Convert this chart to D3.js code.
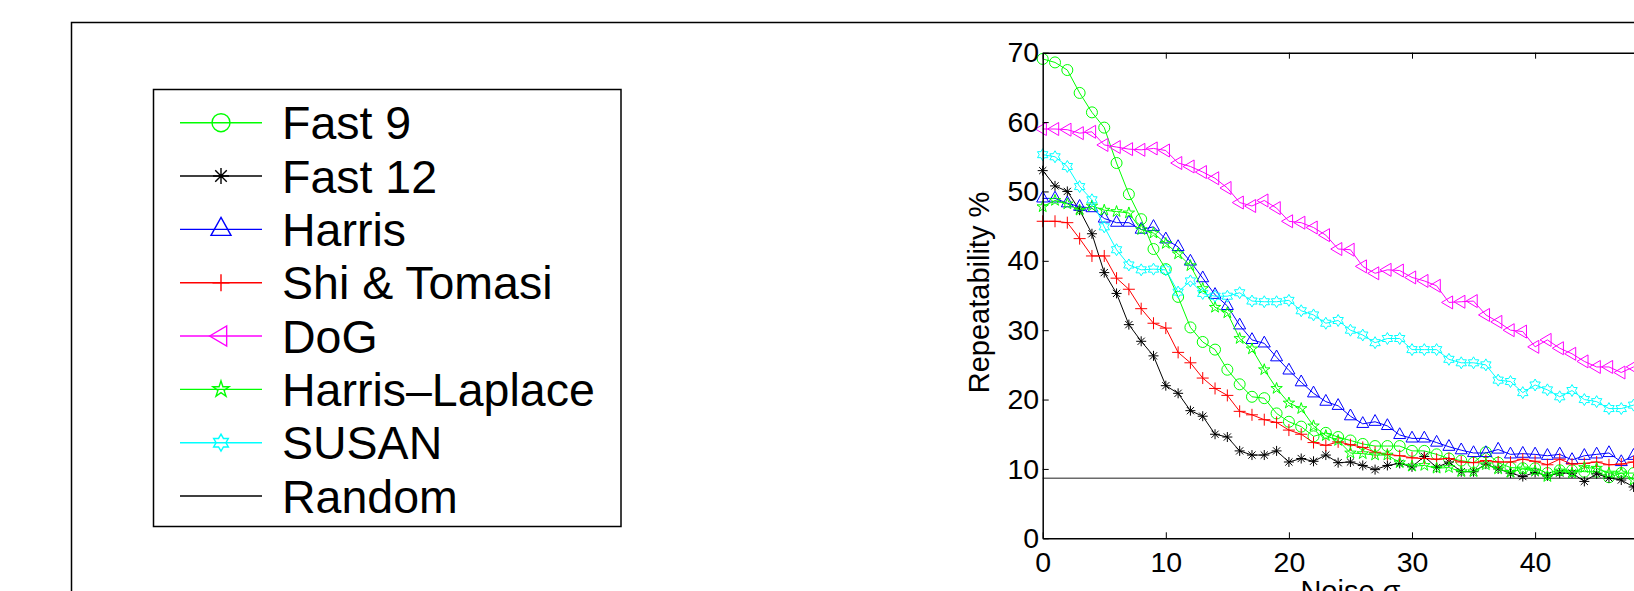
<!DOCTYPE html>
<html><head><meta charset="utf-8">
<script src="https://cdn.jsdelivr.net/npm/d3@7"></script>
<style>body{margin:0;background:#fff}svg{display:block}</style>
</head><body>
<svg id="c" width="1634" height="591"></svg>
<script>
const sigma = [0,1,2,3,4,5,6,7,8,9,10,11,12,13,14,15,16,17,18,19,20,21,22,23,24,25,26,27,28,29,30,31,32,33,34,35,36,37,38,39,40,41,42,43,44,45,46,47,48,49,50];
const fast9 = [69.1,68.6,67.5,64.2,61.4,59.2,54.1,49.6,46.0,41.7,38.8,34.8,30.4,28.3,27.2,24.3,22.2,20.4,20.2,18.0,16.8,16.1,14.7,15.2,14.6,14.1,13.6,13.3,13.3,13.3,12.6,12.6,12.1,11.5,11.2,10.9,12.4,10.9,10.2,10.1,10.1,9.4,9.8,9.8,9.6,9.6,8.8,9.4,9.4,9.5,9.5];
const fast12 = [53.0,50.8,50.0,47.3,43.9,38.3,35.3,30.8,28.4,26.3,22.0,20.9,18.4,17.6,15.0,14.6,12.6,12.0,12.0,12.6,11.0,11.5,11.1,12.0,10.9,11.0,10.5,9.9,10.5,10.8,10.3,11.8,10.2,11.0,9.6,9.6,10.7,10.0,9.4,8.9,9.5,9.0,9.4,9.4,8.2,9.3,8.7,8.4,7.4,7.0,6.8];
const harris = [49.0,49.0,48.3,47.8,47.6,46.1,45.5,45.5,44.5,44.9,43.1,42.0,39.9,37.5,35.1,33.5,30.7,28.6,28.1,26.1,24.2,22.5,20.9,19.7,19.1,17.6,16.5,16.8,16.2,14.9,14.4,14.4,13.8,13.2,12.7,12.3,12.3,12.8,12.1,12.2,12.1,11.9,12.1,11.3,11.9,12.1,12.3,11.0,11.9,11.8,11.6];
const shiTomasi = [45.7,45.7,45.5,43.2,40.7,40.7,37.5,35.9,33.1,31.0,30.3,26.8,25.3,23.1,21.6,20.6,18.3,17.8,17.1,16.7,15.6,15.0,13.8,13.4,13.9,13.5,13.1,12.4,12.1,11.9,11.6,11.5,11.4,11.5,11.0,10.9,11.2,11.0,11.0,11.4,11.1,10.6,11.4,10.7,10.8,11.0,10.6,10.7,11.0,10.9,10.8];
const dog = [59.0,59.0,58.9,58.4,58.6,56.7,56.4,56.1,56.0,56.2,55.9,54.1,53.6,52.8,51.9,50.5,48.4,47.9,48.7,47.6,45.7,45.5,44.8,43.7,41.7,41.6,39.2,38.2,38.7,38.6,37.6,37.1,36.4,34.0,34.1,34.2,32.2,31.2,30.0,29.8,27.6,28.6,27.4,26.6,25.5,24.7,24.7,23.9,24.7,24.0,23.5];
const harrisLaplace = [47.8,48.7,48.2,47.3,47.9,47.3,47.1,46.9,44.5,44.0,42.5,41.0,39.3,36.0,33.3,32.5,28.8,27.3,24.3,21.6,19.5,18.7,16.2,14.8,14.1,12.3,12.2,12.0,12.0,10.9,10.4,10.5,10.1,10.2,9.6,9.6,10.6,10.0,9.5,10.0,9.7,8.9,9.7,9.4,10.2,10.1,9.4,9.4,8.4,8.6,8.5];
const susan = [55.3,55.0,53.6,50.7,48.8,44.9,41.6,39.4,38.7,38.8,38.7,35.5,37.1,35.3,34.9,34.9,35.4,34.2,34.1,34.1,34.3,32.8,32.2,31.0,31.4,30.0,29.3,28.2,28.8,28.8,27.2,27.2,27.2,25.8,25.3,25.3,25.0,22.8,22.6,21.0,22.1,21.4,20.4,21.3,20.0,19.7,18.7,18.7,19.2,19.0,18.5];
const randomLevel = 8.65;
const xTicks = [0,10,20,30,40,50];
const xTickLabels = ["0","10","20","30","40",""];
const yTicks = [0,10,20,30,40,50,60,70];
const seriesNames = ["Fast 9","Fast 12","Harris","Shi & Tomasi","DoG","Harris\u2013Laplace","SUSAN","Random"];
const seriesColors = ["#00ff00","#000000","#0000ff","#ff0000","#ff00ff","#00ff00","#00ffff","#000000"];
const seriesMarkers = ["o","*","^","+","<","p","h",null];
const seriesValues = [fast9,fast12,harris,shiTomasi,dog,harrisLaplace,susan,null];

const FONT = "'Liberation Sans', Arial, Helvetica, sans-serif";
const svg = d3.select("#c");

function markerPath(type, s) {
  const h = s/2;
  if (type === "o") return `M${-h},0A${h},${h} 0 1,0 ${h},0A${h},${h} 0 1,0 ${-h},0Z`;
  if (type === "*") { const d = h*0.72; return `M${-h},0L${h},0M0,${-h}L0,${h}M${-d},${-d}L${d},${d}M${-d},${d}L${d},${-d}`; }
  if (type === "+") return `M${-h},0L${h},0M0,${-h}L0,${h}`;
  if (type === "^") { const W = s, H = s*0.9; return `M0,${-2*H/3}L${W/2},${H/3}L${-W/2},${H/3}Z`; }
  if (type === "<") { const W = s*0.85, H = s; return `M${-2*W/3},0L${W/3},${-H/2}L${W/3},${H/2}Z`; }
  if (type === "p" || type === "h") {
    const n = type === "p" ? 5 : 6;
    const R = h, r = type === "p" ? R*0.382 : R/Math.sqrt(3);
    const pts = [];
    for (let i = 0; i < 2*n; i++) {
      const a = -Math.PI/2 + i*Math.PI/n;
      const rr = i % 2 === 0 ? R : r;
      pts.push([rr*Math.cos(a), rr*Math.sin(a)]);
    }
    return "M" + pts.map(p => p[0].toFixed(2)+","+p[1].toFixed(2)).join("L") + "Z";
  }
  return "";
}
const plotSize = {o:11,"*":10,"^":12,"+":12,"<":13,p:12,h:12};
const legSize = {o:18,"*":16,"^":20,"+":17,"<":20,p:17,h:17};

// outer figure frame
svg.append("rect").attr("x",71.5).attr("y",22.5).attr("width",2000).attr("height",1000)
  .attr("fill","none").attr("stroke","#000").attr("stroke-width",1.5);

// legend
const lg = svg.append("g");
lg.append("rect").attr("x",153.5).attr("y",89.5).attr("width",467.5).attr("height",437)
  .attr("fill","#fff").attr("stroke","#000").attr("stroke-width",1.5);
seriesNames.forEach((name,i) => {
  const yy = 122.7 + i*53.33;
  lg.append("line").attr("x1",180).attr("x2",262).attr("y1",yy).attr("y2",yy)
    .attr("stroke",seriesColors[i]).attr("stroke-width",1.4);
  if (seriesMarkers[i]) {
    lg.append("path").attr("transform",`translate(221,${yy})`)
      .attr("d",markerPath(seriesMarkers[i],legSize[seriesMarkers[i]]))
      .attr("fill","none").attr("stroke",seriesColors[i]).attr("stroke-width",1.4);
  }
  lg.append("text").attr("x",282).attr("y",yy+16.5).text(name)
    .attr("font-family",FONT).attr("font-size",46.5).attr("fill","#000");
});

// axes
const x = d3.scaleLinear().domain([0,50]).range([1042.7,1658.2]);
const y = d3.scaleLinear().domain([0,70]).range([538.3,52.7]);

const plot = svg.append("g");

// random line
plot.append("line").attr("x1",x(0)).attr("x2",x(50)).attr("y1",y(randomLevel)).attr("y2",y(randomLevel))
  .attr("stroke","#6a6a6a").attr("stroke-width",1.5);

const line = d3.line().x((d,i) => x(sigma[i])).y(d => y(d));
seriesValues.forEach((vals,i) => {
  if (!vals) return;
  const g = svg.append("g");
  g.append("path").attr("d",line(vals)).attr("fill","none")
    .attr("stroke",seriesColors[i]).attr("stroke-width",1);
  g.selectAll("path.m").data(vals).enter().append("path").attr("class","m")
    .attr("transform",(d,j) => `translate(${x(sigma[j])},${y(d)})`)
    .attr("d",markerPath(seriesMarkers[i],plotSize[seriesMarkers[i]]))
    .attr("fill","none").attr("stroke",seriesColors[i]).attr("stroke-width",1);
});

function styleAxis(g) {
  g.selectAll(".domain").attr("stroke","#000").attr("stroke-width",1.5);
  g.selectAll(".tick line").attr("stroke","#000").attr("stroke-width",1);
  g.selectAll("text").attr("font-family",FONT).attr("font-size",28.5).attr("fill","#000");
}
svg.append("g").attr("transform",`translate(0,${y(0)})`)
  .call(d3.axisBottom(x).tickValues(xTicks).tickFormat((d,i) => xTickLabels[i]).tickSizeInner(-6).tickSizeOuter(0).tickPadding(13.5))
  .call(styleAxis);
svg.append("g").attr("transform",`translate(0,${y(70)})`)
  .call(d3.axisTop(x).tickValues(xTicks).tickFormat("").tickSizeInner(-6).tickSizeOuter(0))
  .call(styleAxis);
svg.append("g").attr("transform",`translate(${x(0)},0)`)
  .call(d3.axisLeft(y).tickValues(yTicks).tickFormat(d3.format("d")).tickSizeInner(-6).tickSizeOuter(0).tickPadding(3.5))
  .call(styleAxis);
svg.append("g").attr("transform",`translate(${x(50)},0)`)
  .call(d3.axisRight(y).tickValues(yTicks).tickFormat("").tickSizeInner(-6).tickSizeOuter(0))
  .call(styleAxis);

svg.append("text").attr("transform",`translate(989,${(y(0)+y(70))/2 - 3}) rotate(-90)`)
  .attr("text-anchor","middle").text("Repeatability %")
  .attr("font-family",FONT).attr("font-size",29).attr("fill","#000");
svg.append("text").attr("x",(x(0)+x(50))/2).attr("y",601).attr("text-anchor","middle")
  .text("Noise \u03c3").attr("font-family",FONT).attr("font-size",29).attr("fill","#000");
</script>
</body></html>
